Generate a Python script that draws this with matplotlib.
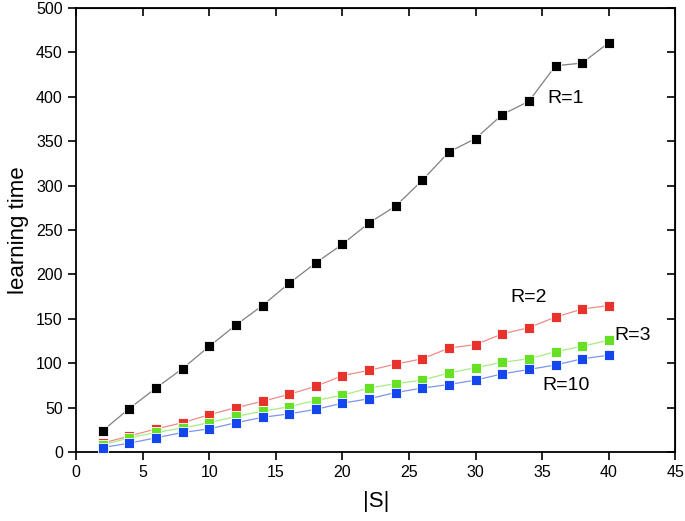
import numpy as np
from matplotlib import pyplot as plt

plt.rcParams['font.family'] = ['Liberation Sans', 'DejaVu Sans']

S = [2, 4, 6, 8, 10, 12, 14, 16, 18, 20, 22, 24, 26, 28, 30, 32, 34, 36, 38, 40]
r1 = [24, 49, 72, 94, 119, 143, 165, 190, 213, 234, 258, 277, 306, 338, 353, 380, 395, 435, 438, 461]
r2 = [10, 18, 26, 33, 42, 50, 57, 65, 74, 86, 92, 99, 105, 117, 121, 133, 140, 152, 161, 165]
r3 = [8, 16, 22, 27, 33, 40, 46, 51, 58, 64, 72, 77, 81, 89, 95, 101, 105, 113, 119, 126]
r10 = [5, 10, 16, 22, 26, 33, 39, 43, 48, 55, 60, 67, 72, 76, 81, 88, 93, 98, 105, 109]

fig = plt.figure(figsize=(6.85, 5.21), dpi=100)
ax = fig.add_axes([0.111, 0.1324, 0.875, 0.8522])

# (values, marker colour, line colour)
series = [(r1, 'black', '#808080'),
          (r2, '#e8322c', '#f08c88'),
          (r3, '#66e022', '#a8ec84'),
          (r10, '#1446ee', '#7e94ee')]
for vals, mc, lc in series:
    ax.plot(S, vals, color=lc, linewidth=0.9, zorder=2)
    ax.plot(S, vals, linestyle='none', marker='s', markersize=7.5,
            markerfacecolor=mc, markeredgecolor='white', markeredgewidth=0.6, zorder=3)

ax.set_xlim(0, 45)
ax.set_ylim(0, 500)
ax.set_xticks(np.arange(0, 46, 5))
ax.set_yticks(np.arange(0, 501, 50))
ax.tick_params(direction='out', length=6, width=1.2, labelsize=11.5)
for sp in ax.spines.values():
    sp.set_linewidth(1.3)

top = ax.secondary_xaxis('top')
top.set_xticks(np.arange(0, 46, 5))
top.tick_params(direction='in', length=6, width=1.2, labeltop=False)
right = ax.secondary_yaxis('right')
right.set_yticks(np.arange(0, 501, 50))
right.tick_params(direction='in', length=6, width=1.2, labelright=False)

ax.set_xlabel('|S|', fontsize=16, labelpad=8)
ax.set_ylabel('learning time', fontsize=16, labelpad=5)

ax.text(35.4, 398, 'R=1', fontsize=14, va='center', ha='left')
ax.text(32.6, 174, 'R=2', fontsize=14, va='center', ha='left')
ax.text(40.4, 131, 'R=3', fontsize=14, va='center', ha='left')
ax.text(35.0, 75, 'R=10', fontsize=14, va='center', ha='left')

fig.savefig('out.png', dpi=100)
